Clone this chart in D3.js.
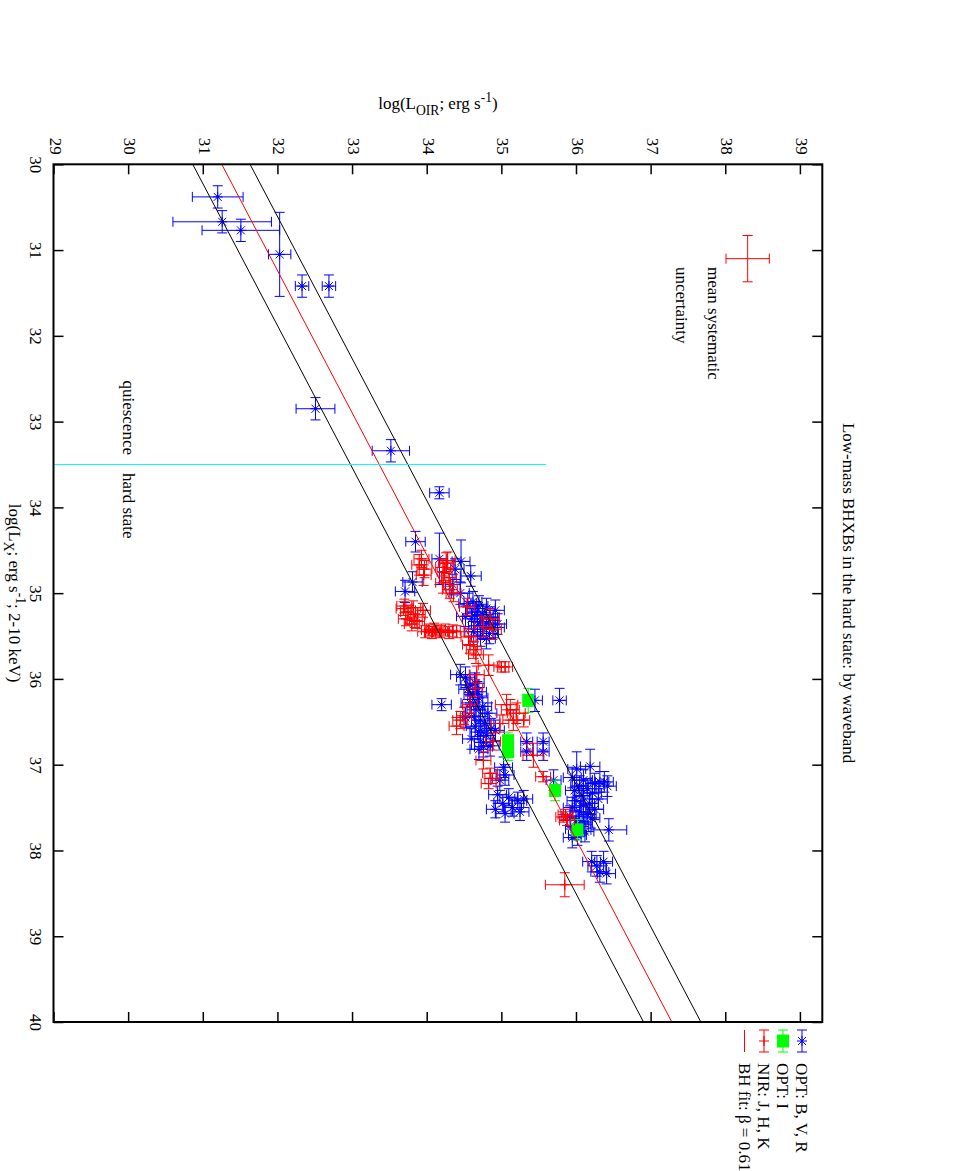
<!DOCTYPE html>
<html>
<head>
<meta charset="utf-8">
<script src="https://cdn.jsdelivr.net/npm/d3@7"></script>
<style>
  html, body { margin: 0; padding: 0; background: #fff; }
  svg { display: block; }
  text { font-family: "Liberation Serif", "Times New Roman", serif; font-size: 17px; fill: #000; }
</style>
</head>
<body>
<svg id="chart" width="958" height="1171"></svg>
<script>
// ---------------- DATA ----------------
// each point: [log Lx, log L_OIR, err log Lx, err log L_OIR]
const optBVR = [
  [30.38, 31.20, 0.13, 0.34],
  [30.67, 31.26, 0.13, 0.66],
  [30.77, 31.51, 0.13, 0.52],
  [31.05, 32.03, 0.49, 0.15],
  [31.42, 32.33, 0.13, 0.09],
  [31.42, 32.69, 0.13, 0.09],
  [32.85, 32.51, 0.13, 0.26],
  [33.34, 33.52, 0.13, 0.25],
  [33.83, 34.17, 0.07, 0.13],
  [34.40, 33.85, 0.12, 0.13],
  [34.60, 34.17, 0.30, 0.10],
  [34.63, 34.46, 0.25, 0.12],
  [34.80, 34.59, 0.12, 0.14],
  [34.87, 33.81, 0.12, 0.13],
  [34.98, 33.71, 0.13, 0.13],
  [34.72, 34.38, 0.12, 0.12],
  [34.90, 34.35, 0.12, 0.10],
  [35.00, 34.45, 0.13, 0.12],
  [35.10, 34.62, 0.12, 0.12],
  [35.15, 34.70, 0.12, 0.12],
  [35.18, 34.80, 0.12, 0.12],
  [35.22, 34.66, 0.12, 0.12],
  [35.25, 34.75, 0.12, 0.14],
  [35.28, 34.85, 0.12, 0.12],
  [35.30, 34.60, 0.12, 0.12],
  [35.33, 34.72, 0.12, 0.12],
  [35.35, 34.80, 0.12, 0.12],
  [35.38, 34.68, 0.12, 0.12],
  [35.40, 34.90, 0.12, 0.14],
  [35.42, 34.76, 0.12, 0.12],
  [35.45, 34.63, 0.12, 0.12],
  [35.47, 34.84, 0.12, 0.12],
  [35.50, 34.72, 0.12, 0.12],
  [35.53, 34.80, 0.12, 0.12],
  [35.20, 34.92, 0.12, 0.12],
  [35.36, 34.95, 0.12, 0.12],
  [35.12, 34.55, 0.12, 0.12],
  [35.27, 34.52, 0.12, 0.12],
  [35.95, 34.45, 0.12, 0.13],
  [35.98, 34.52, 0.12, 0.12],
  [36.05, 34.65, 0.12, 0.12],
  [36.07, 34.58, 0.12, 0.12],
  [36.12, 34.55, 0.12, 0.12],
  [36.15, 34.68, 0.12, 0.12],
  [36.30, 34.20, 0.07, 0.13],
  [36.18, 34.62, 0.12, 0.12],
  [36.22, 34.70, 0.12, 0.12],
  [36.28, 34.58, 0.12, 0.12],
  [36.32, 34.75, 0.12, 0.12],
  [36.36, 34.66, 0.12, 0.12],
  [36.40, 34.82, 0.12, 0.12],
  [36.44, 34.60, 0.12, 0.12],
  [36.48, 34.72, 0.12, 0.12],
  [36.52, 34.78, 0.12, 0.12],
  [36.55, 34.65, 0.12, 0.12],
  [36.58, 34.86, 0.12, 0.12],
  [36.62, 34.70, 0.12, 0.12],
  [36.66, 34.80, 0.12, 0.12],
  [36.70, 34.60, 0.12, 0.12],
  [36.74, 34.76, 0.12, 0.12],
  [36.78, 34.85, 0.12, 0.12],
  [36.82, 34.70, 0.12, 0.12],
  [36.45, 34.52, 0.12, 0.12],
  [36.60, 34.92, 0.12, 0.12],
  [36.25, 35.45, 0.13, 0.10],
  [36.25, 35.78, 0.14, 0.09],
  [36.73, 35.34, 0.10, 0.08],
  [36.85, 35.34, 0.10, 0.08],
  [36.73, 35.56, 0.10, 0.08],
  [36.85, 35.56, 0.10, 0.08],
  [36.79, 34.76, 0.12, 0.12],
  [37.03, 35.03, 0.12, 0.12],
  [37.12, 35.05, 0.12, 0.12],
  [37.18, 34.98, 0.12, 0.12],
  [37.35, 34.95, 0.10, 0.12],
  [37.38, 35.10, 0.10, 0.12],
  [37.42, 35.22, 0.10, 0.12],
  [37.45, 35.02, 0.10, 0.12],
  [37.50, 35.15, 0.10, 0.12],
  [37.52, 34.92, 0.10, 0.12],
  [37.55, 35.25, 0.10, 0.12],
  [37.57, 35.05, 0.10, 0.12],
  [37.40, 35.30, 0.10, 0.12],
  [37.18, 35.70, 0.12, 0.10],
  [37.05, 36.01, 0.20, 0.12],
  [37.02, 36.19, 0.20, 0.13],
  [37.15, 35.95, 0.12, 0.12],
  [37.18, 36.10, 0.12, 0.12],
  [37.20, 36.32, 0.12, 0.12],
  [37.22, 36.25, 0.12, 0.12],
  [37.25, 36.05, 0.12, 0.12],
  [37.28, 36.15, 0.12, 0.12],
  [37.30, 35.98, 0.12, 0.12],
  [37.33, 36.22, 0.12, 0.12],
  [37.36, 36.08, 0.12, 0.12],
  [37.40, 36.30, 0.12, 0.12],
  [37.42, 36.00, 0.12, 0.12],
  [37.45, 36.18, 0.12, 0.12],
  [37.48, 36.10, 0.12, 0.12],
  [37.50, 35.95, 0.12, 0.12],
  [37.52, 36.25, 0.12, 0.12],
  [37.55, 36.05, 0.12, 0.12],
  [37.58, 36.15, 0.12, 0.12],
  [37.60, 35.92, 0.12, 0.12],
  [37.62, 36.20, 0.12, 0.12],
  [37.65, 36.00, 0.12, 0.12],
  [37.68, 36.10, 0.12, 0.12],
  [37.72, 36.05, 0.12, 0.12],
  [37.75, 35.98, 0.12, 0.12],
  [37.78, 36.12, 0.12, 0.12],
  [37.82, 36.02, 0.12, 0.12],
  [37.85, 35.95, 0.12, 0.12],
  [37.20, 36.38, 0.12, 0.12],
  [37.25, 36.42, 0.12, 0.12],
  [37.76, 36.44, 0.13, 0.24],
  [38.13, 36.21, 0.12, 0.12],
  [38.13, 36.37, 0.12, 0.12],
  [38.27, 36.41, 0.12, 0.12],
  [38.25, 36.32, 0.12, 0.12],
  [38.18, 36.28, 0.12, 0.12]
];

const optI = [
  [36.25, 35.36, 0.14, 0.05],
  [36.72, 35.09, 0.10, 0.05],
  [36.85, 35.09, 0.10, 0.05],
  [37.30, 35.72, 0.12, 0.06],
  [37.76, 36.02, 0.12, 0.06]
];

const nirJHK = [
  [34.67, 33.90, 0.12, 0.10], [34.79, 33.96, 0.12, 0.10], [34.60, 33.93, 0.10, 0.10], [34.72, 33.97, 0.10, 0.10],
  [34.65, 34.26, 0.12, 0.10], [34.88, 34.22, 0.12, 0.10], [34.75, 34.24, 0.10, 0.10], [34.82, 34.30, 0.10, 0.10],
  [34.62, 34.28, 0.10, 0.10], [34.70, 34.22, 0.10, 0.10],
  [34.96, 34.31, 0.10, 0.10], [35.00, 34.36, 0.10, 0.10],
  [35.18, 33.69, 0.08, 0.10], [35.15, 33.70, 0.08, 0.10], [35.22, 33.75, 0.08, 0.10], [35.17, 33.82, 0.08, 0.10],
  [35.25, 33.88, 0.08, 0.10], [35.30, 33.72, 0.08, 0.10], [35.20, 33.95, 0.08, 0.10], [35.32, 33.84, 0.08, 0.10],
  [35.33, 33.87, 0.08, 0.10], [35.36, 33.80, 0.08, 0.10],
  [35.45, 33.98, 0.07, 0.10], [35.43, 34.03, 0.07, 0.10], [35.46, 34.07, 0.07, 0.10], [35.44, 34.12, 0.07, 0.10],
  [35.45, 34.18, 0.07, 0.10], [35.43, 34.25, 0.07, 0.10], [35.46, 34.30, 0.07, 0.10], [35.44, 34.35, 0.07, 0.10],
  [35.45, 34.40, 0.07, 0.10], [35.42, 34.10, 0.07, 0.10],
  [35.16, 34.54, 0.10, 0.10], [35.39, 34.76, 0.12, 0.12], [35.51, 34.56, 0.10, 0.10], [35.66, 34.63, 0.10, 0.10],
  [35.60, 34.58, 0.10, 0.10], [35.72, 34.66, 0.10, 0.10],
  [35.30, 34.85, 0.12, 0.12], [35.42, 34.88, 0.12, 0.12],
  [35.84, 34.83, 0.12, 0.14], [35.86, 35.00, 0.06, 0.10], [35.86, 35.05, 0.06, 0.10],
  [35.95, 34.67, 0.10, 0.10], [36.11, 34.65, 0.10, 0.10],
  [36.30, 34.58, 0.10, 0.10], [36.48, 34.45, 0.10, 0.10], [36.43, 34.50, 0.10, 0.10], [36.55, 34.40, 0.10, 0.10],
  [36.30, 35.07, 0.12, 0.15], [36.48, 35.16, 0.12, 0.14], [36.40, 35.20, 0.12, 0.12], [36.52, 34.98, 0.10, 0.12],
  [36.36, 35.12, 0.12, 0.12], [36.48, 35.30, 0.08, 0.08],
  [36.73, 34.89, 0.10, 0.10], [36.89, 35.43, 0.14, 0.14], [36.95, 34.76, 0.10, 0.10],
  [37.10, 34.85, 0.06, 0.10], [37.16, 34.88, 0.06, 0.10], [37.22, 34.83, 0.06, 0.10],
  [37.14, 35.56, 0.06, 0.10],
  [37.61, 35.83, 0.06, 0.10], [37.65, 35.88, 0.06, 0.10], [37.58, 35.86, 0.06, 0.10],
  [38.40, 35.85, 0.14, 0.26]
];

// BH fit (red) and bounding lines (black): log L_OIR = a + b * (log Lx - 30)
const fitIntercepts = [31.254, 30.865, 31.633];
const fitSlopes = [0.603, 0.604, 0.604];
const fitColors = ["#ff0000", "#000000", "#000000"];

const lxTicks = [30, 31, 32, 33, 34, 35, 36, 37, 38, 39, 40];
const loirTicks = [29, 30, 31, 32, 33, 34, 35, 36, 37, 38, 39];

const stateBoundary = { lx: 33.5, loirMax: 35.6 };
const systematic = [31.10, 38.30, 0.27, 0.29];

const legendLabels = ["OPT: B, V, R", "OPT: I", "NIR: J, H, K", "BH fit: \u03b2 = 0.61"];

// ---------------- LAYOUT ----------------
const svg = d3.select("#chart");
const pLeft = 53.5, pRight = 822.3, pTop = 164.3, pBottom = 1022;
const SERIF = "'Liberation Serif', 'Times New Roman', serif";

const xL = d3.scaleLinear().domain([29, 39.3]).range([pLeft, pRight]);   // log L_OIR -> screen x
const yX = d3.scaleLinear().domain([30, 40]).range([pTop, pBottom]);     // log Lx -> screen y

// axes (ticks inward)
const topAxis = svg.append("g").attr("transform", `translate(0,${pTop})`)
  .call(d3.axisTop(xL).tickValues(loirTicks).tickSizeInner(-10).tickSizeOuter(0).tickFormat(d3.format("d")));
topAxis.selectAll("text")
  .attr("x", null).attr("y", null).attr("dy", null)
  .attr("text-anchor", "end")
  .attr("transform", "translate(-4.5,-9.5) rotate(90)");

const leftAxis = svg.append("g").attr("transform", `translate(${pLeft},0)`)
  .call(d3.axisLeft(yX).tickValues(lxTicks).tickSizeInner(-10).tickSizeOuter(0).tickFormat(d3.format("d")));
leftAxis.selectAll("text")
  .attr("x", null).attr("y", null).attr("dy", null)
  .attr("text-anchor", "middle")
  .attr("transform", "translate(-23.5,0) rotate(90)");

svg.append("g").attr("transform", `translate(0,${pBottom})`)
  .call(d3.axisBottom(xL).tickValues(loirTicks).tickSizeInner(-10).tickSizeOuter(0).tickFormat(""));
svg.append("g").attr("transform", `translate(${pRight},0)`)
  .call(d3.axisRight(yX).tickValues(lxTicks).tickSizeInner(-10).tickSizeOuter(0).tickFormat(""));

svg.selectAll(".domain").remove();
[topAxis, leftAxis].forEach(a => a.attr("font-family", SERIF).attr("font-size", 17));
svg.selectAll(".tick line").attr("stroke", "#000").attr("stroke-width", 1.5);
svg.selectAll(".tick text").style("font-family", SERIF).style("font-size", "17px").attr("fill", "#000");

// ---------------- MARKS ----------------
const plot = svg.append("g");
const CAP = 5;

function errorBars(g, d, color) {
  const cx = xL(d[1]), cy = yX(d[0]);
  const x0 = xL(d[1] - d[3]), x1 = xL(d[1] + d[3]);
  const y0 = yX(d[0] - d[2]), y1 = yX(d[0] + d[2]);
  const p = d3.path();
  p.moveTo(x0, cy); p.lineTo(x1, cy);
  p.moveTo(x0, cy - CAP); p.lineTo(x0, cy + CAP);
  p.moveTo(x1, cy - CAP); p.lineTo(x1, cy + CAP);
  p.moveTo(cx, y0); p.lineTo(cx, y1);
  p.moveTo(cx - CAP, y0); p.lineTo(cx + CAP, y0);
  p.moveTo(cx - CAP, y1); p.lineTo(cx + CAP, y1);
  g.append("path").attr("d", p.toString()).attr("stroke", color).attr("stroke-width", 1).attr("fill", "none");
}
function star(g, cx, cy, color) {
  const p = d3.path();
  p.moveTo(cx - 5, cy); p.lineTo(cx + 5, cy);
  p.moveTo(cx, cy - 5); p.lineTo(cx, cy + 5);
  p.moveTo(cx - 4, cy - 4); p.lineTo(cx + 4, cy + 4);
  p.moveTo(cx - 4, cy + 4); p.lineTo(cx + 4, cy - 4);
  g.append("path").attr("d", p.toString()).attr("stroke", color).attr("stroke-width", 1).attr("fill", "none");
  g.append("circle").attr("cx", cx).attr("cy", cy).attr("r", 1.3).attr("fill", color);
}
function plus(g, cx, cy, color) {
  const p = d3.path();
  p.moveTo(cx - 5, cy); p.lineTo(cx + 5, cy);
  p.moveTo(cx, cy - 5); p.lineTo(cx, cy + 5);
  g.append("path").attr("d", p.toString()).attr("stroke", color).attr("stroke-width", 1.2).attr("fill", "none");
}
function square(g, cx, cy, color) {
  g.append("rect").attr("x", cx - 6).attr("y", cy - 6.5).attr("width", 12).attr("height", 13).attr("fill", color);
}

const gBlue = plot.append("g");
optBVR.forEach(d => { errorBars(gBlue, d, "#0000ff"); star(gBlue, xL(d[1]), yX(d[0]), "#0000ff"); });
const gGreen = plot.append("g");
optI.forEach(d => { errorBars(gGreen, d, "#00ff00"); square(gGreen, xL(d[1]), yX(d[0]), "#00ff00"); });
const gRed = plot.append("g");
nirJHK.forEach(d => { errorBars(gRed, d, "#ff0000"); plus(gRed, xL(d[1]), yX(d[0]), "#ff0000"); });

// fit lines
fitIntercepts.forEach((a, i) => {
  const b = fitSlopes[i];
  const line = d3.line().x(lx => xL(a + b * (lx - 30))).y(lx => yX(lx));
  plot.append("path").attr("d", line([30, 40])).attr("stroke", fitColors[i]).attr("stroke-width", 1).attr("fill", "none");
});

// state boundary
plot.append("line")
  .attr("x1", xL(29)).attr("x2", xL(stateBoundary.loirMax))
  .attr("y1", yX(stateBoundary.lx)).attr("y2", yX(stateBoundary.lx))
  .attr("stroke", "#00ffff").attr("stroke-width", 1);

// systematic uncertainty bar
errorBars(plot, systematic, "#ff0000");

// frame
svg.append("rect").attr("x", pLeft).attr("y", pTop).attr("width", pRight - pLeft).attr("height", pBottom - pTop)
  .attr("fill", "none").attr("stroke", "#000").attr("stroke-width", 2);

// ---------------- TEXT ----------------
function rotText(x, y, anchor) {
  return svg.append("text").attr("text-anchor", anchor).attr("transform", `translate(${x},${y}) rotate(90)`);
}
rotText(122.5, 455, "end").text("quiescence");
rotText(122.5, 473, "start").text("hard state");
rotText(708, 267, "start").text("mean systematic");
rotText(676, 267, "start").text("uncertainty");
rotText(842.5, yX(35), "middle").text("Low-mass BHXBs in the hard state: by waveband");

// x-axis label (log Lx), rotated
const lxLab = rotText(9, yX(35), "middle");
lxLab.append("tspan").text("log(L");
lxLab.append("tspan").attr("dy", 5).style("font-size", "13.6px").text("X");
lxLab.append("tspan").attr("dy", -5).text("; erg s");
lxLab.append("tspan").attr("dy", -7).style("font-size", "13.6px").text("-1");
lxLab.append("tspan").attr("dy", 7).text("; 2-10 keV)");

// y-axis label (log L_OIR), horizontal on top
const loLab = svg.append("text").attr("text-anchor", "middle").attr("x", (pLeft + pRight) / 2).attr("y", 109);
loLab.append("tspan").text("log(L");
loLab.append("tspan").attr("dy", 6).style("font-size", "13.6px").text("OIR");
loLab.append("tspan").attr("dy", -6).text("; erg s");
loLab.append("tspan").attr("dy", -7).style("font-size", "13.6px").text("-1");
loLab.append("tspan").attr("dy", 7).text(")");

// legend
const legX = [802, 783, 764, 744.5];
const legSymY = 1041, legTextY = 1063;
const legG = svg.append("g");
legendLabels.forEach((lab, i) => {
  const cx = legX[i];
  if (i < 3) {
    const col = ["#0000ff", "#00ff00", "#ff0000"][i];
    const p = d3.path();
    p.moveTo(cx, legSymY - 11); p.lineTo(cx, legSymY + 11);
    p.moveTo(cx - CAP, legSymY - 11); p.lineTo(cx + CAP, legSymY - 11);
    p.moveTo(cx - CAP, legSymY + 11); p.lineTo(cx + CAP, legSymY + 11);
    legG.append("path").attr("d", p.toString()).attr("stroke", col).attr("stroke-width", 1).attr("fill", "none");
    if (i === 0) star(legG, cx, legSymY, col);
    if (i === 1) square(legG, cx, legSymY, col);
    if (i === 2) plus(legG, cx, legSymY, col);
  } else {
    legG.append("line").attr("x1", cx).attr("x2", cx).attr("y1", legSymY - 11).attr("y2", legSymY + 11)
      .attr("stroke", "#ff0000").attr("stroke-width", 1);
  }
  rotText(cx - 5.7, legTextY, "start").text(lab);
});
</script>
</body>
</html>
